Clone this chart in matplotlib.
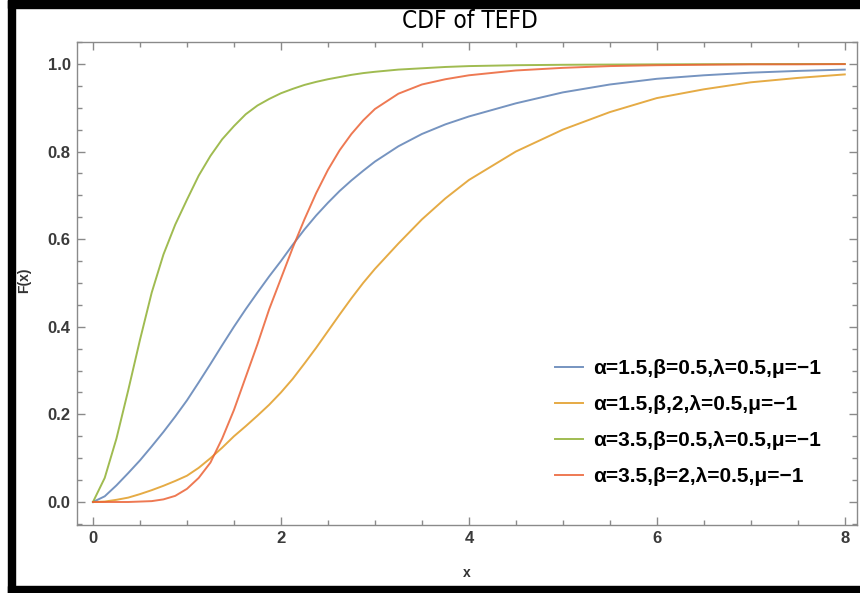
import matplotlib
matplotlib.use("Agg")
import matplotlib.pyplot as plt
from matplotlib.patches import Rectangle
from matplotlib.ticker import MultipleLocator

# ---- data ----
x_vals = [0, 0.125, 0.25, 0.375, 0.5, 0.625, 0.75, 0.875, 1.0, 1.125, 1.25,
          1.375, 1.5, 1.625, 1.75, 1.875, 2.0, 2.125, 2.25, 2.375, 2.5, 2.625,
          2.75, 2.875, 3.0, 3.25, 3.5, 3.75, 4.0, 4.5, 5.0, 5.5, 6.0, 6.5,
          7.0, 7.5, 8.0]

blue_y = [0, 0.013, 0.038, 0.066, 0.095, 0.127, 0.16, 0.195, 0.232, 0.273,
          0.315, 0.358, 0.40, 0.44, 0.478, 0.515, 0.55, 0.587, 0.622, 0.654,
          0.683, 0.71, 0.734, 0.756, 0.777, 0.812, 0.84, 0.862, 0.88, 0.91,
          0.935, 0.953, 0.966, 0.974, 0.98, 0.984, 0.987]
orange_y = [0, 0.001, 0.005, 0.01, 0.018, 0.027, 0.037, 0.048, 0.06, 0.078,
            0.10, 0.124, 0.15, 0.173, 0.197, 0.222, 0.25, 0.281, 0.316, 0.352,
            0.39, 0.428, 0.465, 0.50, 0.532, 0.59, 0.645, 0.693, 0.735, 0.80,
            0.85, 0.89, 0.922, 0.942, 0.958, 0.968, 0.976]
green_y = [0, 0.055, 0.145, 0.255, 0.37, 0.478, 0.565, 0.633, 0.69, 0.745,
           0.79, 0.828, 0.858, 0.885, 0.905, 0.92, 0.933, 0.943, 0.952, 0.959,
           0.965, 0.970, 0.975, 0.979, 0.982, 0.987, 0.990, 0.993, 0.995,
           0.997, 0.998, 0.9985, 0.999, 0.9993, 0.9995, 0.9997, 0.9998]
red_y = [0, 0.0, 0.0, 0.0, 0.001, 0.002, 0.006, 0.014, 0.03, 0.055, 0.09,
         0.145, 0.21, 0.285, 0.36, 0.44, 0.51, 0.58, 0.645, 0.705, 0.758,
         0.803, 0.84, 0.871, 0.897, 0.932, 0.953, 0.965, 0.974, 0.985, 0.991,
         0.995, 0.997, 0.998, 0.999, 0.999, 0.9995]

labels = ["α=1.5,β=0.5,λ=0.5,μ=−1",
          "α=1.5,β,2,λ=0.5,μ=−1",
          "α=3.5,β=0.5,λ=0.5,μ=−1",
          "α=3.5,β=2,λ=0.5,μ=−1"]
colors = ["#5E81B5", "#E19C24", "#8FB032", "#EB6235"]
series = [blue_y, orange_y, green_y, red_y]

title = "CDF of TEFD"
x_ticks = [0, 2, 4, 6, 8]
y_ticks = [0.0, 0.2, 0.4, 0.6, 0.8, 1.0]

# ---- figure ----
W, H = 860, 593
fig = plt.figure(figsize=(W / 100, H / 100), dpi=100)
fig.patch.set_facecolor("white")

def fx(px):
    return px / W

def fy(py):
    return 1 - py / H

ax = fig.add_axes([fx(77), fy(525), fx(857) - fx(77), fy(42) - fy(525)])

for y, c, lab in zip(series, colors, labels):
    ax.plot(x_vals, y, color=c, lw=1.4, alpha=0.85, label=lab,
            solid_joinstyle="round")

ax.set_xlim(-0.17, 8.13)
ax.set_ylim(-0.0525, 1.05)
ax.set_xticks(x_ticks)
ax.set_yticks(y_ticks)
ax.set_xticklabels([str(t) for t in x_ticks])
ax.set_yticklabels([f"{t:.1f}" for t in y_ticks])
ax.xaxis.set_minor_locator(MultipleLocator(0.5))
ax.yaxis.set_minor_locator(MultipleLocator(0.05))

frame_col = "#8a8a8a"
for s in ax.spines.values():
    s.set_color(frame_col)
    s.set_linewidth(1.0)
ax.tick_params(which="both", direction="in", top=True, right=True,
               color=frame_col, width=1.0)
ax.tick_params(which="major", length=6, labelsize=12, labelcolor="#3a3a3a", pad=4.5)
ax.tick_params(which="minor", length=3.5)
for lbl in ax.get_xticklabels() + ax.get_yticklabels():
    lbl.set_fontweight("bold")
    lbl.set_family(["Liberation Sans", "DejaVu Sans"])

leg = ax.legend(loc="upper left", bbox_to_anchor=(fx(555), fy(359)),
                bbox_transform=fig.transFigure, frameon=False,
                prop={"family": ["Liberation Sans", "DejaVu Sans"],
                      "weight": "bold", "size": 15},
                handlelength=1.35, handletextpad=0.5, labelspacing=0.82,
                borderpad=0, borderaxespad=0)

fig.text(fx(470), fy(21), title, ha="center", va="center", fontsize=17.5,
         family="DejaVu Sans", fontstretch="condensed", color="#000000")
fig.text(fx(467), fy(573), "x", ha="center", va="center", fontsize=10,
         fontweight="bold", color="#333333",
         family=["Liberation Sans", "DejaVu Sans"])
fig.text(fx(24), fy(280), "F(x)", ha="center", va="center", fontsize=10,
         fontweight="bold", rotation=90, color="#333333",
         family=["Liberation Sans", "DejaVu Sans"])

# black border of the screenshot
k = "black"
fig.patches.append(Rectangle((fx(8), fy(8)), 1 - fx(8), fy(0) - fy(8),
                             transform=fig.transFigure, color=k, zorder=10))
fig.patches.append(Rectangle((fx(8), fy(593)), fx(15) - fx(8), fy(0) - fy(593),
                             transform=fig.transFigure, color=k, zorder=10))
fig.patches.append(Rectangle((fx(8), fy(593)), 1 - fx(8), fy(586) - fy(593),
                             transform=fig.transFigure, color=k, zorder=10))

fig.savefig("out.png", dpi=100, facecolor="white")
